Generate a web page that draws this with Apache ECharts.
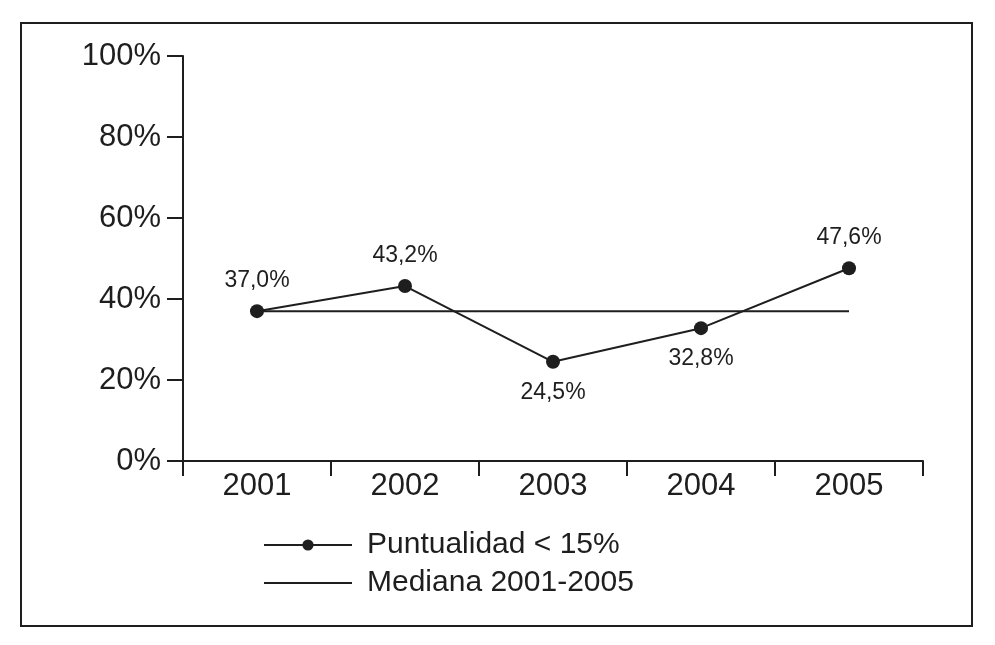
<!DOCTYPE html>
<html><head><meta charset="utf-8">
<script src="https://cdn.jsdelivr.net/npm/echarts@6/dist/echarts.min.js"></script>
<style>html,body{margin:0;padding:0;background:#fff}#c{width:995px;height:645px}</style>
</head><body><div id="c"></div>
<script>
var categories = ['2001','2002','2003','2004','2005'];
var puntualidad = [37.0, 43.2, 24.5, 32.8, 47.6];
var mediana = [37.0, 37.0, 37.0, 37.0, 37.0];
var labelPos = ['top','top','bottom','bottom','top'];
var seriesNames = ['Puntualidad < 15%', 'Mediana 2001-2005'];

var ink = '#1e1e1e';
var font = 'Liberation Sans, Arial, Helvetica, sans-serif';
var chart = echarts.init(document.getElementById('c'));
chart.setOption({
  backgroundColor: '#fff',
  animation: false,
  graphic: [{
    type: 'rect', shape: {x: 21, y: 23, width: 951, height: 603},
    style: {fill: 'none', stroke: ink, lineWidth: 2}, silent: true
  }],
  grid: {left: 183, top: 56, right: 72, bottom: 184},
  legend: {
    orient: 'vertical', left: 258, top: 525, itemWidth: 88, itemHeight: 14, itemGap: 8,
    textStyle: {fontFamily: font, fontSize: 30, color: ink, padding: [0,0,0,10]},
    data: [
      {name: seriesNames[0]},
      {name: seriesNames[1], itemStyle: {color: 'rgba(0,0,0,0)', borderWidth: 0}}
    ]
  },
  xAxis: {
    type: 'category', data: categories, boundaryGap: true,
    axisLine: {lineStyle: {color: ink, width: 2}},
    axisTick: {show: true, length: 15, lineStyle: {color: ink, width: 2}},
    axisLabel: {fontFamily: font, fontSize: 31, color: ink, margin: 10}
  },
  yAxis: {
    type: 'value', min: 0, max: 100, interval: 20,
    axisLine: {show: true, lineStyle: {color: ink, width: 2}},
    axisTick: {show: true, length: 16, lineStyle: {color: ink, width: 2}},
    splitLine: {show: false},
    axisLabel: {fontFamily: font, fontSize: 31, color: ink, margin: 22, formatter: '{value}%'}
  },
  series: [{
    name: seriesNames[0], type: 'line', data: puntualidad.map(function(v, i){
      return {value: v, label: {position: labelPos[i]}};
    }),
    symbol: 'circle', symbolSize: 14, z: 3,
    lineStyle: {color: ink, width: 2}, itemStyle: {color: ink},
    label: {show: true, fontFamily: font, fontSize: 23, color: ink, distance: 12,
      formatter: function(p){ return p.value.toFixed(1).replace('.', ',') + '%'; }}
  }, {
    name: seriesNames[1], type: 'line', data: mediana, symbol: 'none', z: 2,
    lineStyle: {color: ink, width: 2}, itemStyle: {color: ink}
  }]
});
</script></body></html>
